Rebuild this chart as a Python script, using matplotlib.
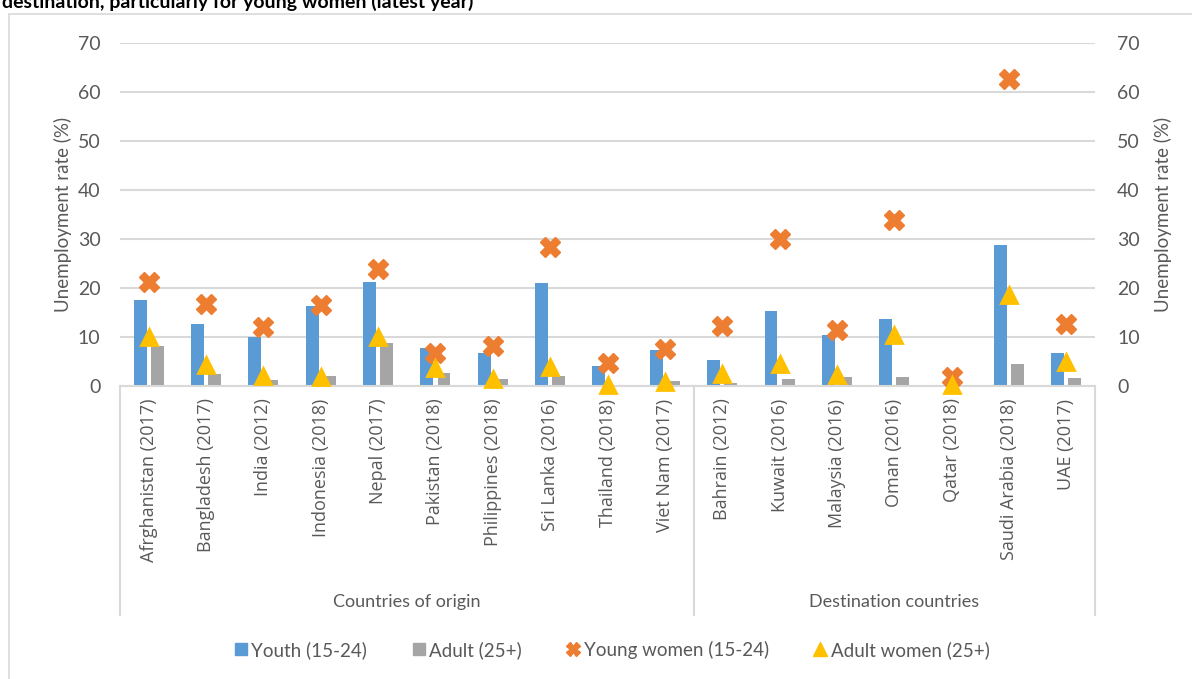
import numpy as np
import matplotlib.pyplot as plt
from matplotlib.lines import Line2D

plt.rcParams['font.family'] = ['Lato', 'DejaVu Sans']

countries = ['Afrghanistan (2017)', 'Bangladesh (2017)', 'India (2012)', 'Indonesia (2018)',
             'Nepal (2017)', 'Pakistan (2018)', 'Philippines (2018)', 'Sri Lanka (2016)',
             'Thailand (2018)', 'Viet Nam (2017)', 'Bahrain (2012)', 'Kuwait (2016)',
             'Malaysia (2016)', 'Oman (2016)', 'Qatar (2018)', 'Saudi Arabia (2018)', 'UAE (2017)']
groups = ['Countries of origin', 'Destination countries']
group_sizes = [10, 7]

youth = [17.5, 12.7, 10.0, 16.4, 21.3, 7.7, 6.7, 21.1, 4.0, 7.4,
         5.3, 15.3, 10.4, 13.6, 0.3, 28.8, 6.8]
adult = [8.2, 2.4, 1.2, 2.1, 8.7, 2.7, 1.4, 2.0, 0.3, 1.1,
         0.6, 1.4, 1.9, 1.8, 0.1, 4.4, 1.6]
young_women = [21.2, 16.8, 12.0, 16.6, 23.9, 6.8, 8.2, 28.4, 4.7, 7.6,
               12.2, 30.0, 11.4, 33.9, 1.8, 62.7, 12.7]
adult_women = [10.0, 4.3, 2.0, 1.9, 10.1, 3.6, 1.5, 3.9, 0.3, 0.9,
               2.4, 4.5, 2.2, 10.5, 0.2, 18.6, 4.9]

blue = '#5B9BD5'
grey = '#A5A5A5'
orange = '#ED7D31'
yellow = '#FFC000'
txt = '#595959'
line_c = '#D9D9D9'

fig = plt.figure(figsize=(11.92, 6.79), dpi=100)
ax = fig.add_axes([120/1192, 1-386/679, 975/1192, 343/679])

x = np.arange(len(countries))
w = 0.225
ax.bar(x - 0.15, youth, w, color=blue, zorder=2)
ax.bar(x + 0.15, adult, w, color=grey, zorder=2)
ax.plot(x, young_women, ls='', marker='X', ms=15, color=orange, mec=orange, zorder=3,
        clip_on=False)
ax.plot(x, adult_women, ls='', marker='^', ms=12, color=yellow, mec=yellow, mew=2,
        zorder=4, solid_joinstyle='round', clip_on=False)

ax.set_xlim(-0.5, len(countries) - 0.5)
ax.set_ylim(0, 70)
ax.set_yticks(range(0, 71, 10))
ax.yaxis.grid(True, color=line_c, lw=1.5, zorder=0)
ax.tick_params(axis='y', length=0, labelsize=14, labelcolor=txt, pad=14)
ax.set_xticks(x)
ax.set_xticklabels(countries, rotation=90, fontsize=13, color=txt, family='Open Sans')
ax.tick_params(axis='x', length=0, pad=9)
for s in ['left', 'right', 'top']:
    ax.spines[s].set_visible(False)
ax.spines['bottom'].set_color(line_c)
ax.spines['bottom'].set_linewidth(1.5)
ax.set_ylabel('Unemployment rate (%)', fontsize=13.5, color=txt, labelpad=4)

ax2 = ax.twinx()
ax2.set_ylim(0, 70)
ax2.set_yticks(range(0, 71, 10))
ax2.tick_params(axis='y', length=0, labelsize=14, labelcolor=txt, pad=16)
for s in ['left', 'right', 'top', 'bottom']:
    ax2.spines[s].set_visible(False)
ax2.set_ylabel('Unemployment rate (%)', fontsize=13.5, color=txt, labelpad=10, rotation=90)

# group box under the category labels
trans = ax.get_xaxis_transform()
edges = [-0.5]
for n in group_sizes:
    edges.append(edges[-1] + n)
for e in edges:
    ax.add_line(Line2D([e, e], [0, -229/343], transform=trans, color=line_c, lw=1.5,
                       clip_on=False))
for i, g in enumerate(groups):
    ax.text((edges[i] + edges[i+1]) / 2, -216/343, g, transform=trans, ha='center',
            va='center', fontsize=13, color=txt)

# outer chart border
fig.patches.append(plt.Rectangle((9/1192, -0.1), 1.2, 1 - 14/679 + 0.1,
                                 transform=fig.transFigure, fill=False, ec=line_c, lw=1.2))

fig.text(2/1192, 1 - 8/679, 'destination, particularly for young women (latest year)',
         fontsize=14, fontweight='bold', color='black', va='baseline', ha='left')

handles = [
    Line2D([], [], ls='', marker='s', ms=8, color=blue),
    Line2D([], [], ls='', marker='s', ms=8, color=grey),
    Line2D([], [], ls='', marker='X', ms=10, color=orange),
    Line2D([], [], ls='', marker='^', ms=10, color=yellow),
]
labels = ['Youth (15-24)', 'Adult (25+)', 'Young women (15-24)', 'Adult women (25+)']
fig.legend(handles, labels, loc='center', bbox_to_anchor=(612/1192, 1 - 650/679), ncol=4,
           frameon=False, fontsize=13.5, labelcolor=txt, handlelength=0.7, handletextpad=0.2,
           columnspacing=2.4)

fig.savefig('out.png', dpi=100)
